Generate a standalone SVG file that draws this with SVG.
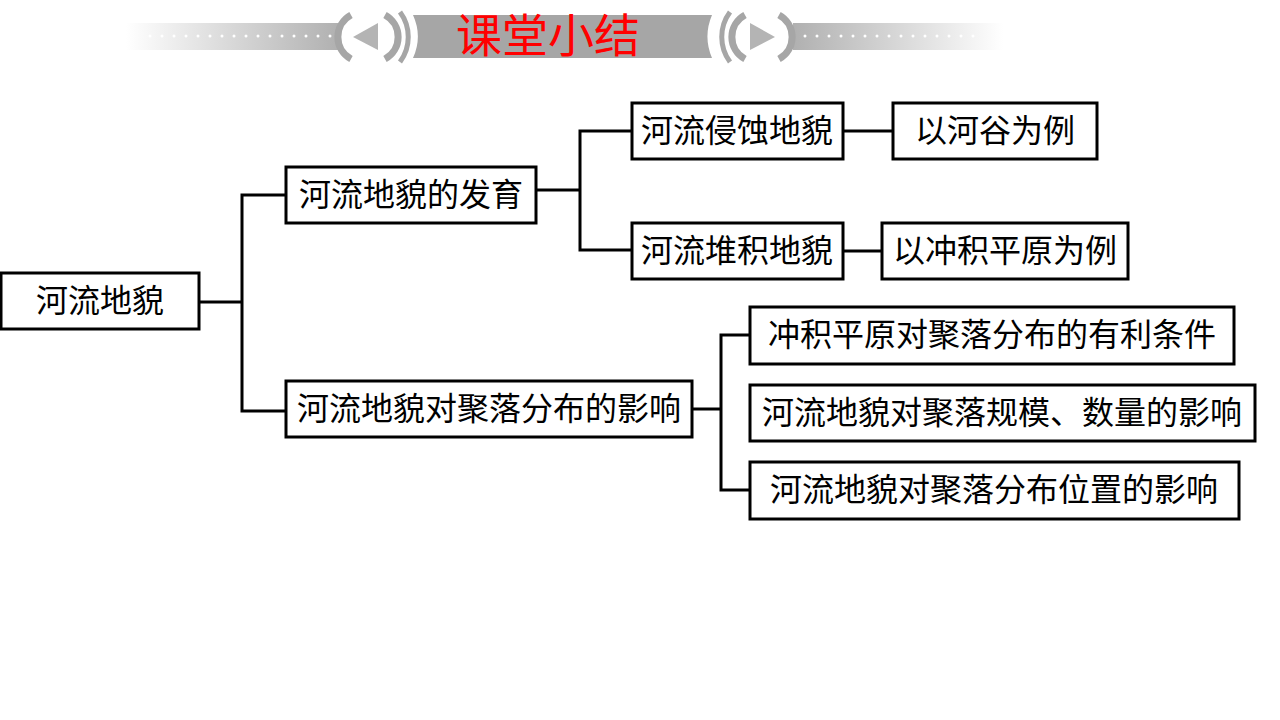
<svg xmlns="http://www.w3.org/2000/svg" width="1280" height="720" viewBox="0 0 1280 720">
<defs>
<linearGradient id="gl" x1="0" y1="0" x2="1" y2="0"><stop offset="0" stop-color="#ffffff"/><stop offset="1" stop-color="#b0b0b0"/></linearGradient>
<linearGradient id="gr" x1="0" y1="0" x2="1" y2="0"><stop offset="0" stop-color="#b0b0b0"/><stop offset="1" stop-color="#ffffff"/></linearGradient>
<style>
.box{fill:#fff;stroke:#000;stroke-width:3}
.t{font-family:"Liberation Serif","Noto Sans CJK SC",serif;font-size:32px;fill:#000;text-anchor:middle;dominant-baseline:central}
.c{fill:none;stroke:#000;stroke-width:3}
.orn{fill:none;stroke:#a6a6a6;stroke-width:7}
</style>
</defs>
<rect width="1280" height="720" fill="#fff"/>
<g id="banner">
<rect x="126" y="23" width="214" height="27" fill="url(#gl)"/>
<rect x="793" y="23" width="210" height="27" fill="url(#gr)"/>
<g fill="#fff">
<circle cx="150" cy="36" r="1.5"/><circle cx="162" cy="36" r="1.5"/><circle cx="174" cy="36" r="1.5"/><circle cx="186" cy="36" r="1.5"/><circle cx="198" cy="36" r="1.5"/><circle cx="210" cy="36" r="1.5"/><circle cx="222" cy="36" r="1.5"/><circle cx="234" cy="36" r="1.5"/><circle cx="246" cy="36" r="1.5"/><circle cx="258" cy="36" r="1.5"/><circle cx="270" cy="36" r="1.5"/><circle cx="282" cy="36" r="1.5"/><circle cx="294" cy="36" r="1.5"/><circle cx="306" cy="36" r="1.5"/><circle cx="318" cy="36" r="1.5"/><circle cx="330" cy="36" r="1.5"/>
<circle cx="805" cy="36" r="1.5"/><circle cx="817" cy="36" r="1.5"/><circle cx="829" cy="36" r="1.5"/><circle cx="841" cy="36" r="1.5"/><circle cx="853" cy="36" r="1.5"/><circle cx="865" cy="36" r="1.5"/><circle cx="877" cy="36" r="1.5"/><circle cx="889" cy="36" r="1.5"/><circle cx="901" cy="36" r="1.5"/><circle cx="913" cy="36" r="1.5"/><circle cx="925" cy="36" r="1.5"/><circle cx="937" cy="36" r="1.5"/><circle cx="949" cy="36" r="1.5"/><circle cx="961" cy="36" r="1.5"/><circle cx="973" cy="36" r="1.5"/>
</g>
<path d="M413,15 L712,15 A55,55 0 0 0 712,58 L413,58 A52,52 0 0 0 413,15 Z" fill="#a6a6a6"/>
<path d="M351,15 A25,25 0 0 0 351,59" class="orn"/>
<path d="M385,15 A25,25 0 0 1 385,59" class="orn"/>
<path d="M400,12 A42,42 0 0 1 400,62" fill="none" stroke="#a6a6a6" stroke-width="5"/>
<path d="M745,15 A25,25 0 0 0 745,59" class="orn"/>
<path d="M779,15 A25,25 0 0 1 779,59" class="orn"/>
<path d="M730,12 A42,42 0 0 0 730,62" fill="none" stroke="#a6a6a6" stroke-width="5"/>
<polygon points="353,37 378,23 378,50" fill="#b4b4b4"/>
<polygon points="775,37 750,23 750,50" fill="#b4b4b4"/>
<text x="548" y="36" font-family="'Liberation Serif','Noto Sans CJK SC',serif" font-size="46" fill="#ff0000" text-anchor="middle" dominant-baseline="central">课堂小结</text>
</g>
<g id="connectors">
<polyline class="c" points="200,302 242,302"/>
<polyline class="c" points="285,195 242,195 242,411 285,411"/>
<polyline class="c" points="536,190 580,190"/>
<polyline class="c" points="632,131 580,131 580,250 632,250"/>
<polyline class="c" points="843,131 893,131"/>
<polyline class="c" points="843,251 882,251"/>
<polyline class="c" points="692,409 721,409"/>
<polyline class="c" points="750,335 721,335 721,490 750,490"/>
</g>
<g id="n-root"><rect class="box" x="1" y="273" width="198" height="56"/><text class="t" x="100" y="301">河流地貌</text></g>
<g id="n-fayu"><rect class="box" x="286" y="167" width="250" height="56"/><text class="t" x="411" y="195">河流地貌的发育</text></g>
<g id="n-yingxiang"><rect class="box" x="286" y="381" width="406" height="56"/><text class="t" x="489" y="409">河流地貌对聚落分布的影响</text></g>
<g id="n-qinshi"><rect class="box" x="632" y="103" width="211" height="56"/><text class="t" x="737" y="131">河流侵蚀地貌</text></g>
<g id="n-duiji"><rect class="box" x="632" y="223" width="211" height="56"/><text class="t" x="737" y="251">河流堆积地貌</text></g>
<g id="n-hegu"><rect class="box" x="893" y="103" width="204" height="56"/><text class="t" x="995" y="131">以河谷为例</text></g>
<g id="n-pingyuan"><rect class="box" x="882" y="223" width="246" height="56"/><text class="t" x="1005" y="251">以冲积平原为例</text></g>
<g id="n-tiaojian"><rect class="box" x="750" y="307" width="484" height="57"/><text class="t" x="992" y="335">冲积平原对聚落分布的有利条件</text></g>
<g id="n-guimo"><rect class="box" x="750" y="385" width="505" height="56"/><text class="t" x="1002" y="413">河流地貌对聚落规模、数量的影响</text></g>
<g id="n-weizhi"><rect class="box" x="750" y="462" width="489" height="57"/><text class="t" x="994" y="490">河流地貌对聚落分布位置的影响</text></g>
</svg>
